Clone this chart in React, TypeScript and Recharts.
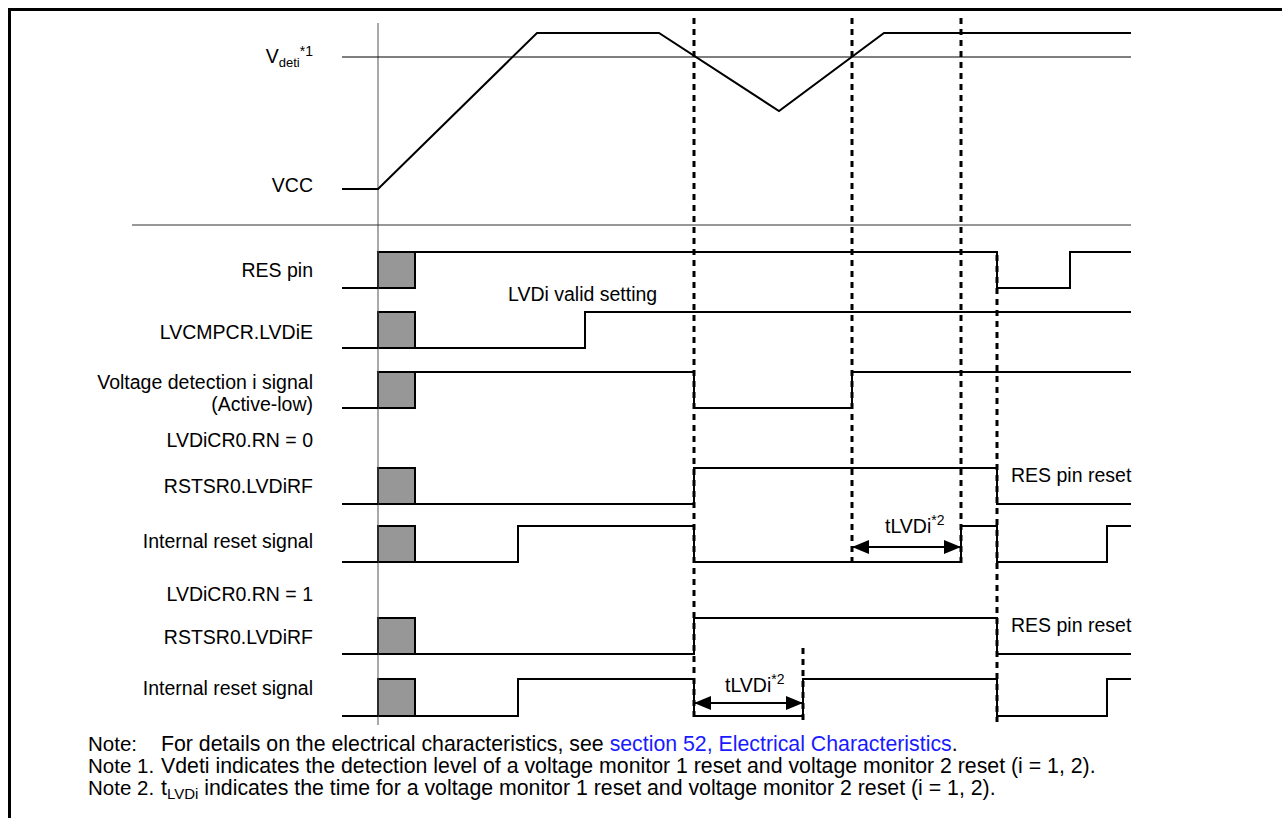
import React from 'react';
import { ComposedChart, Line, XAxis, YAxis, ReferenceLine, ReferenceArea, Scatter } from 'recharts';

// ---------- DATA (time in arbitrary units, 0 = power-on) ----------
const T_START = -36;
const T_END = 753;
const T_BOX_END = 37;

// VCC (relative level: 0 = 0 V, 1 = steady supply)
const vccWave = [
  { t: -36, v: 0 },
  { t: 0, v: 0 },
  { t: 159, v: 1 },
  { t: 281, v: 1 },
  { t: 401, v: 0.5 },
  { t: 506, v: 1 },
  { t: 753, v: 1 },
];
const VDET_LEVEL = 0.846;

// Digital signals after the undefined (grey) period: level 0 / 1
const resPinWave = [
  { t: 37, v: 1 },
  { t: 619, v: 0 },
  { t: 692, v: 1 },
  { t: 753, v: 1 },
];
const lvdieWave = [
  { t: 37, v: 0 },
  { t: 207, v: 1 },
  { t: 753, v: 1 },
];
const vdetWave = [
  { t: 37, v: 1 },
  { t: 316, v: 0 },
  { t: 474, v: 1 },
  { t: 753, v: 1 },
];
const rstsrRn0Wave = [
  { t: 37, v: 0 },
  { t: 316, v: 1 },
  { t: 619, v: 0 },
  { t: 753, v: 0 },
];
const intRstRn0Wave = [
  { t: 37, v: 0 },
  { t: 140, v: 1 },
  { t: 316, v: 0 },
  { t: 583, v: 1 },
  { t: 619, v: 0 },
  { t: 729, v: 1 },
  { t: 753, v: 1 },
];
const rstsrRn1Wave = [
  { t: 37, v: 0 },
  { t: 316, v: 1 },
  { t: 619, v: 0 },
  { t: 753, v: 0 },
];
const intRstRn1Wave = [
  { t: 37, v: 0 },
  { t: 140, v: 1 },
  { t: 316, v: 0 },
  { t: 425, v: 1 },
  { t: 619, v: 0 },
  { t: 729, v: 1 },
  { t: 753, v: 1 },
];

// event times marked by dashed lines
const dashedTimes = [316, 474, 583, 619, 425];
// tLVDi spans
const tLvdiSpans = [
  { from: 474, to: 583 },
  { from: 316, to: 425 },
];

// ---------- LAYOUT ----------
const W = 1282;
const H = 818;
const X_DOMAIN: [number, number] = [-378, 904];
const Y_DOMAIN: [number, number] = [0, 818];

const vccLane = { high: 33, low: 189 };
const digitalLanes = [
  { key: 'res', wave: resPinWave, high: 252, low: 288 },
  { key: 'lvdie', wave: lvdieWave, high: 312, low: 348 },
  { key: 'vdet', wave: vdetWave, high: 372, low: 408 },
  { key: 'rst0', wave: rstsrRn0Wave, high: 468, low: 504 },
  { key: 'int0', wave: intRstRn0Wave, high: 526, low: 562 },
  { key: 'rst1', wave: rstsrRn1Wave, high: 618, low: 654 },
  { key: 'int1', wave: intRstRn1Wave, high: 679, low: 716 },
];
const dashedExtents = [
  { y1: 18, y2: 722 },
  { y1: 18, y2: 568 },
  { y1: 18, y2: 568 },
  { y1: 255, y2: 722 },
  { y1: 648, y2: 722 },
];
const arrowYs = [547, 703];
const SEPARATOR_Y = 225;
const SEPARATOR_T0 = -246;
const POWER_LINE = { y1: 23, y2: 725 };

const FONT = "'Liberation Sans', Arial, Helvetica, sans-serif";
const LABEL_SIZE = 19.5;
const NOTE_LABEL_SIZE = 20.5;
const NOTE_SIZE = 21.3;
const NOTE_LABEL_X = 88;
const NOTE_TEXT_X = 161;

const lvl = (lane: { high: number; low: number }, v: number) => lane.low - v * (lane.low - lane.high);

const vccData = vccWave.map((p) => ({ t: p.t, y: lvl(vccLane, p.v) }));
const vdetY = lvl(vccLane, VDET_LEVEL);

const laneData = digitalLanes.map((ln) => ({
  ...ln,
  data: [
    { t: T_START, y: ln.low },
    { t: 0, y: ln.low },
    { t: T_BOX_END / 2, y: null as number | null },
    ...ln.wave.map((p) => ({ t: p.t, y: lvl(ln, p.v) })),
  ],
}));

const arrowHeads = tLvdiSpans.flatMap((s, i) => [
  { t: s.from, y: arrowYs[i], dir: -1 },
  { t: s.to, y: arrowYs[i], dir: 1 },
]);

const ArrowHead = (props: any) => {
  const { cx, cy, payload } = props;
  if (cx == null || cy == null) return null;
  const d = payload.dir;
  const L = 17;
  const h = 7;
  return (
    <polygon
      points={`${cx},${cy} ${cx - d * L},${cy - h} ${cx - d * L},${cy + h}`}
      fill="#000"
      stroke="none"
    />
  );
};

const Labels = () => {
  const R = 313;
  const t = { fontFamily: FONT, fontSize: LABEL_SIZE, fill: '#000' } as const;
  const nl = { fontFamily: FONT, fontSize: NOTE_LABEL_SIZE, fill: '#000' } as const;
  const n = { fontFamily: FONT, fontSize: NOTE_SIZE, fill: '#000' } as const;
  return (
    <svg
      width={W}
      height={H}
      style={{ position: 'absolute', left: 0, top: 0, pointerEvents: 'none' }}
    >
      {/* frame */}
      <line x1={9.5} y1={8} x2={9.5} y2={H} stroke="#000" strokeWidth={3} />
      <line x1={8} y1={9.5} x2={W} y2={9.5} stroke="#000" strokeWidth={3} />

      <text x={R} y={63} textAnchor="end" {...t}>
        V<tspan fontSize={13} dy={4}>deti</tspan>
        <tspan fontSize={14} dy={-11}>*1</tspan>
      </text>
      <text x={R} y={192} textAnchor="end" {...t}>VCC</text>
      <text x={R} y={277} textAnchor="end" {...t}>RES pin</text>
      <text x={R} y={339} textAnchor="end" {...t}>LVCMPCR.LVDiE</text>
      <text x={R} y={389} textAnchor="end" {...t}>Voltage detection i signal</text>
      <text x={R} y={411} textAnchor="end" {...t}>(Active-low)</text>
      <text x={R} y={447} textAnchor="end" {...t}>LVDiCR0.RN = 0</text>
      <text x={R} y={493} textAnchor="end" {...t}>RSTSR0.LVDiRF</text>
      <text x={R} y={548} textAnchor="end" {...t}>Internal reset signal</text>
      <text x={R} y={601} textAnchor="end" {...t}>LVDiCR0.RN = 1</text>
      <text x={R} y={644} textAnchor="end" {...t}>RSTSR0.LVDiRF</text>
      <text x={R} y={695} textAnchor="end" {...t}>Internal reset signal</text>

      <text x={508} y={301} {...t}>LVDi valid setting</text>
      <text x={1011} y={482} {...t}>RES pin reset</text>
      <text x={1011} y={632} {...t}>RES pin reset</text>
      <text x={885} y={533} {...t}>
        tLVDi<tspan fontSize={14} dy={-8}>*2</tspan>
      </text>
      <text x={725} y={692} {...t}>
        tLVDi<tspan fontSize={14} dy={-8}>*2</tspan>
      </text>

      {/* notes */}
      <text x={NOTE_LABEL_X} y={751} {...nl}>Note:</text>
      <text x={NOTE_TEXT_X} y={751} {...n}>
        For details on the electrical characteristics, see{' '}
        <tspan fill="#1a1aff">section 52, Electrical Characteristics</tspan>.
      </text>
      <text x={NOTE_LABEL_X} y={773} {...nl}>Note 1.</text>
      <text x={NOTE_TEXT_X} y={773} {...n}>
        Vdeti indicates the detection level of a voltage monitor 1 reset and voltage monitor 2 reset (i = 1, 2).
      </text>
      <text x={NOTE_LABEL_X} y={795} {...nl}>Note 2.</text>
      <text x={NOTE_TEXT_X} y={795} {...n}>
        t<tspan fontSize={15} dy={4}>LVDi</tspan>
        <tspan dy={-4}> indicates the time for a voltage monitor 1 reset and voltage monitor 2 reset (i = 1, 2).</tspan>
      </text>
    </svg>
  );
};

export default function App() {
  return (
    <div style={{ position: 'absolute', left: 0, top: 0, width: W, height: H, background: '#fff' }}>
      <ComposedChart width={W} height={H} margin={{ top: 0, right: 0, bottom: 0, left: 0 }}>
        <XAxis type="number" dataKey="t" domain={X_DOMAIN} allowDataOverflow hide />
        <YAxis type="number" domain={Y_DOMAIN} reversed allowDataOverflow hide />

        {/* grey undefined periods */}
        {digitalLanes.map((ln) => (
          <ReferenceArea
            key={'box-' + ln.key}
            x1={0}
            x2={T_BOX_END}
            y1={ln.high}
            y2={ln.low}
            fill="#979797"
            fillOpacity={1}
            stroke="#000"
            strokeWidth={2}
          />
        ))}

        {/* power-on reference line */}
        <ReferenceLine
          segment={[
            { x: 0, y: POWER_LINE.y1 },
            { x: 0, y: POWER_LINE.y2 },
          ]}
          stroke="#555"
          strokeWidth={1}
        />
        {/* Vdeti level */}
        <ReferenceLine
          segment={[
            { x: T_START, y: vdetY },
            { x: T_END, y: vdetY },
          ]}
          stroke="#000"
          strokeWidth={1.2}
        />
        {/* separator */}
        <ReferenceLine
          segment={[
            { x: SEPARATOR_T0, y: SEPARATOR_Y },
            { x: T_END, y: SEPARATOR_Y },
          ]}
          stroke="#333"
          strokeWidth={1.2}
        />

        {/* dashed event markers */}
        {dashedTimes.map((tt, i) => (
          <ReferenceLine
            key={'dash-' + i}
            segment={[
              { x: tt, y: dashedExtents[i].y1 },
              { x: tt, y: dashedExtents[i].y2 },
            ]}
            stroke="#000"
            strokeWidth={3}
            strokeDasharray="6 5"
          />
        ))}

        {/* tLVDi arrows */}
        {tLvdiSpans.map((s, i) => (
          <ReferenceLine
            key={'arr-' + i}
            segment={[
              { x: s.from, y: arrowYs[i] },
              { x: s.to, y: arrowYs[i] },
            ]}
            stroke="#000"
            strokeWidth={2}
          />
        ))}

        <Line
          data={vccData}
          dataKey="y"
          type="linear"
          stroke="#000"
          strokeWidth={2}
          dot={false}
          activeDot={false}
          isAnimationActive={false}
        />
        {laneData.map((ln) => (
          <Line
            key={'ln-' + ln.key}
            data={ln.data}
            dataKey="y"
            type="stepAfter"
            stroke="#000"
            strokeWidth={2}
            dot={false}
            activeDot={false}
            connectNulls={false}
            isAnimationActive={false}
          />
        ))}
        <Scatter data={arrowHeads} dataKey="y" shape={ArrowHead} isAnimationActive={false} />
      </ComposedChart>
      <Labels />
    </div>
  );
}
